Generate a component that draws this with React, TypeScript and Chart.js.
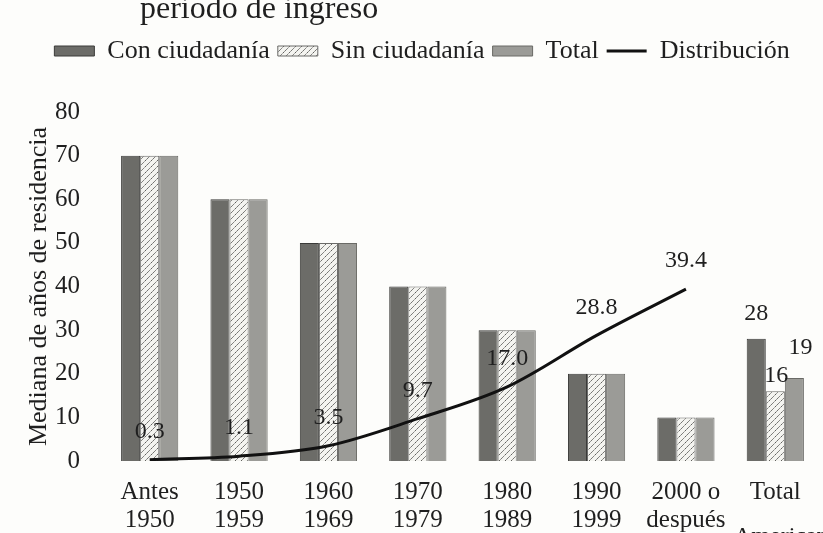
import React, { useEffect, useRef } from "react";
import { Chart, registerables } from "chart.js";
Chart.register(...registerables);

const categories: string[][] = [
  ["Antes", "1950"],
  ["1950", "1959"],
  ["1960", "1969"],
  ["1970", "1979"],
  ["1980", "1989"],
  ["1990", "1999"],
  ["2000 o", "después"],
  ["Total"],
];
const conCiudadania = [70, 60, 50, 40, 30, 20, 10, 28];
const sinCiudadania = [70, 60, 50, 40, 30, 20, 10, 16];
const totalSerie = [70, 60, 50, 40, 30, 20, 10, 19];
const distribucion: (number | null)[] = [0.3, 1.1, 3.5, 9.7, 17.0, 28.8, 39.4, null];
const seriesNames = ["Con ciudadanía", "Sin ciudadanía", "Total", "Distribución"];
const titleText = "periodo de ingreso";
const sourceText = "American";

const FONT = '"Liberation Serif", "DejaVu Serif", serif';
const TEXT = "#1f1f1f";

function makeHatch(): CanvasPattern | string {
  const c = document.createElement("canvas");
  c.width = 6;
  c.height = 6;
  const g = c.getContext("2d");
  if (!g) return "#eee";
  g.fillStyle = "#f4f4f0";
  g.fillRect(0, 0, 6, 6);
  g.strokeStyle = "#4a4a48";
  g.lineWidth = 1;
  g.setLineDash([2, 1]);
  g.beginPath();
  g.moveTo(-1, 7);
  g.lineTo(7, -1);
  g.stroke();
  g.beginPath();
  g.moveTo(5, 7);
  g.lineTo(7, 5);
  g.moveTo(-1, 1);
  g.lineTo(1, -1);
  g.stroke();
  return g.createPattern(c, "repeat") || "#eee";
}

export default function App() {
  const ref = useRef<HTMLCanvasElement | null>(null);
  useEffect(() => {
    if (!ref.current) return;
    const hatch = makeHatch();

    const legendSpacer = {
      id: "legendSpacer",
      beforeInit(chart: any) {
        const orig = chart.legend.fit;
        chart.legend.fit = function () {
          orig.call(this);
          this.height += 38;
        };
      },
    };

    const textPlugin = {
      id: "texts",
      afterDraw(chart: any) {
        const ctx = chart.ctx;
        ctx.save();
        ctx.fillStyle = TEXT;
        ctx.font = `32px ${FONT}`;
        ctx.textAlign = "left";
        ctx.textBaseline = "alphabetic";
        ctx.fillText(titleText, 140, 18);
        ctx.font = `24px ${FONT}`;
        ctx.fillText(sourceText, 734, 543);
        ctx.restore();
      },
      afterDatasetsDraw(chart: any) {
        const ctx = chart.ctx;
        ctx.save();
        ctx.fillStyle = TEXT;
        ctx.font = `24px ${FONT}`;
        ctx.textAlign = "center";
        ctx.textBaseline = "middle";
        const lineMeta = chart.getDatasetMeta(3);
        lineMeta.data.forEach((pt: any, i: number) => {
          const v = distribucion[i];
          if (v == null) return;
          ctx.fillText(v.toFixed(1), pt.x, pt.y - 28);
        });
        const last = categories.length - 1;
        const specs: [number, number[], number, number][] = [
          [0, conCiudadania, 0, 25],
          [1, sinCiudadania, 1, 15],
          [2, totalSerie, 6, 30],
        ];
        specs.forEach(([di, arr, dx, dy]) => {
          const bar = chart.getDatasetMeta(di).data[last];
          ctx.fillText(String(arr[last]), bar.x + dx, bar.y - dy);
        });
        ctx.restore();
      },
    };

    const chart = new Chart(ref.current, {
      type: "bar",
      data: {
        labels: categories,
        datasets: [
          {
            label: seriesNames[0],
            data: conCiudadania,
            backgroundColor: "#6c6c68",
            borderColor: "#3a3a38",
            borderWidth: 1,
            pointStyle: "rect",
            order: 1,
          } as any,
          {
            label: seriesNames[1],
            data: sinCiudadania,
            backgroundColor: hatch,
            borderColor: "#6a6a68",
            borderWidth: 1,
            pointStyle: "rect",
            order: 1,
          } as any,
          {
            label: seriesNames[2],
            data: totalSerie,
            backgroundColor: "#9b9b97",
            borderColor: "#6a6a66",
            borderWidth: 1,
            pointStyle: "rect",
            order: 1,
          } as any,
          {
            type: "line",
            label: seriesNames[3],
            data: distribucion,
            borderColor: "#111",
            backgroundColor: "#111",
            borderWidth: 3,
            pointRadius: 0,
            pointStyle: "line",
            cubicInterpolationMode: "monotone",
            fill: false,
            order: -1,
          } as any,
        ],
      },
      options: {
        animation: false,
        responsive: true,
        maintainAspectRatio: false,
        layout: { padding: { top: 30, left: 24, right: 3, bottom: 0 } },
        datasets: { bar: { categoryPercentage: 0.64, barPercentage: 1.0 } },
        plugins: {
          legend: {
            position: "top",
            labels: {
              usePointStyle: true,
              pointStyleWidth: 40,
              boxHeight: 10,
              padding: 8,
              color: TEXT,
              font: { family: FONT, size: 26 },
              sort: (a: any, b: any) => a.datasetIndex - b.datasetIndex,
            },
          },
          tooltip: { enabled: false },
        },
        scales: {
          x: {
            grid: { display: false, drawTicks: false, tickLength: 0 },
            border: { display: false },
            afterFit: (s: any) => {
              s.height = 72;
            },
            ticks: {
              color: TEXT,
              font: { family: FONT, size: 25, lineHeight: 1.12 },
              maxRotation: 0,
              autoSkip: false,
              padding: 17,
            },
          },
          y: {
            min: 0,
            max: 80,
            grid: { display: false, drawTicks: false, tickLength: 0 },
            border: { display: false },
            afterFit: (s: any) => {
              s.width = 81;
            },
            ticks: {
              stepSize: 10,
              color: TEXT,
              font: { family: FONT, size: 25 },
              padding: 25,
            },
            title: {
              display: true,
              text: "Mediana de años de residencia",
              color: TEXT,
              font: { family: FONT, size: 26 },
              padding: { top: 0, bottom: 0 },
            },
          },
        },
      } as any,
      plugins: [legendSpacer, textPlugin],
    });
    return () => chart.destroy();
  }, []);

  return (
    <div style={{ position: "fixed", left: 0, top: 0, width: 823, height: 533, background: "#fdfdfb" }}>
      <canvas ref={ref} />
    </div>
  );
}
